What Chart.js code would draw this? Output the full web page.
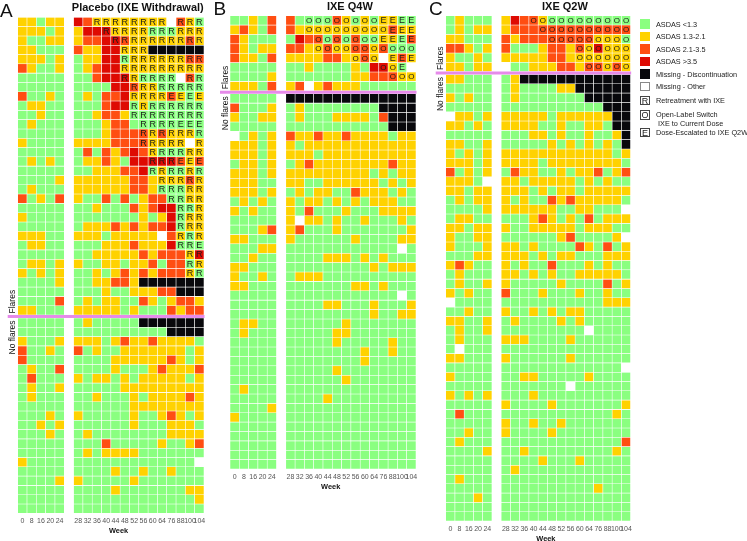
<!DOCTYPE html>
<html>
<head>
<meta charset="utf-8">
<title>ASDAS by week</title>
<script src="https://cdn.jsdelivr.net/npm/chart.js@4"></script>
<style>
html, body { margin: 0; padding: 0; background: #fff; }
body { width: 747px; height: 541px; position: relative; overflow: hidden; font-family: "Liberation Sans", Arial, sans-serif; }
canvas { position: absolute; top: 0; }
#legend { position: absolute; left: 0; top: 0; width: 747px; height: 541px; will-change: transform; }
.key { position: absolute; left: 640.3px; width: 9.6px; height: 9.6px; box-sizing: border-box; text-align: center; font-size: 9px; line-height: 8.4px; color: #222; }
.keyText { position: absolute; left: 656px; font-size: 7.3px; line-height: 9px; color: #222; white-space: pre; }
</style>
</head>
<body>
<canvas id="chartA" width="212" height="541" style="left:0"></canvas>
<canvas id="chartB" width="216" height="541" style="left:212px"></canvas>
<canvas id="chartC" width="208" height="541" style="left:428px"></canvas>
<div id="legend"></div>
<script>
var weeks = ['0', '8', '16', '20', '24', '', '28', '32', '36', '40', '44', '48', '52', '56', '60', '64', '76', '88', '100', '104'];

// g <1.3, y 1.3-2.1, o 2.1-3.5, r >3.5, k discontinued, w missing
var placeboRows = [
    'yygyy royyyyyyyywoyg', 'yyygy yrrryyyygggyyy', 'yggyy yoorroyyyyyyoy', 'yyggg oyyrryyykkkkkk', 'yyygy gyyrrgyyyyyyoo',
    'oyggy gyorryyyyyyyyy', 'ggggg ggorrryggggwog', 'ggggg ggggrroyyggggg', 'oggyg gygooryyyyoygy',
    'gyygg gggorrgygggggg', 'ggygg ggyooygggggggg', 'gyggg gggyoogggggggg', 'ggggg gggyooooyoyyyg',
    'ygggg yyyyooooyyyywy', 'ggggg gogoyoroygggyy', 'gygyg gyyoygrrrrroyo', 'ggggg ggyyyoorgyggyg',
    'ggggy yyyyyyooyyyyoy', 'gyggg yyyyyyooygggyy', 'ogygo yggogogyooggyy', 'ggggg ggygggoyorrggy',
    'ygggg gggggggygyrgyy', 'ggggg gyyyoyoyoorgyy', 'yyygg yyygyyyyywoygy', 'gyygg gggyyyoyyyrggg',
    'ggggg ggyyyyyoyoooyr', 'gyygy yggyygyyogoogy', 'ygygy ggygyoyoyoooyg', 'ggggy ggyyooykkkkkkk',
    'ggggg gggyggyyyookkk', 'ggggo gygyyggoygyooy', 'yyggg yyyyygygggoyoo', 'ggggg gygggggkkkkkkk',
    'ggggg ggggggggggkkkk', 'ygggy yyygyoyyoyyyyg', 'oggyg ogyggyyyyyyygy', 'ogggg ggggyyyyyyoygy',
    'gyggo ggggygggyoyyyo', 'goggg ygyygygyyyyygy', 'gyggy gggggyyyyyyyyy', 'gyggg ggygggygyyyyoy',
    'ggggg ggggggyyyyyyyy', 'gggyg ygggggyggyoygy', 'ggygy ggggggygggyyyg', 'gggyg gyggggggggyyyy',
    'ggggg gggogggggyggyo', 'ggggg gygyyyyggggggg', 'ygggg gggggggggggggw', 'ggggg ggggyggyggyggg',
    'ggggy ygggggyggggggg', 'ggggg ggggygggggggyy', 'ggggg gggggggggggggy', 'ggggg gggggggggggggg'
];
var placeboMarks = [
    '..RRRRRRRR.RRR', '...RRRRRRRRRRR', '....RRRRRRRRRR', '.....RRR......', '.....RRRRRRRRR',
    '.....RRRRRRRRR', '.....RRRRRR.RR', '......RRRRRRRR', '......RRRREEEE', '......RRRRRRRR',
    '......RRRRRRRR', '.......RRRREEE', '.......RRRRRRR', '.......RRRRR.R', '........RRRRRR',
    '........RRREEE', '........RRRRRR', '.........RRRRR', '.........RRRRR', '..........RRRR',
    '...........RRR', '...........RRR', '...........RRR', '...........RRR', '...........RRE',
    '............RR', '............RR', '............RR'
];
var q4wRows = [
    'ggygo oggggoygygyygg', 'yoygo oyyyyyyyyyyoyy', 'oyggg groogogoggyygo', 'oygyy ooyyoyyooyoggg',
    'oyygo yyyyooyyoywyoy', 'ggggg ggyggggygrrygw', 'ggggy gggggggyyoooyy', 'yyygo yowyoyyygggggg',
    'ggggg kkkkkkkkkkkkkk', 'ogggy gyggggggggkkkk', 'yggyy gygggyyyygokkk', 'ggggg gggggggggggkkk',
    'wgygy oyyoyyoyyyygyy', 'yyygy ygyyyyyyyyyyyy', 'yyygy yyygyyyyyyyyyy', 'gyygy gyoyyyyyyyyoyy',
    'yyygy yyyyyyyyygygyy', 'yyygg yyggyyyyyygygy', 'yyygy gygyyggoyyygyg', 'gygyg ygyygygygyyygg',
    'ygygg ygogggygggyyyy', 'ggggg ywyygyggygggyg', 'gggyo yogggygggggggy', 'yyggg yggggggyggggyy',
    'gggyy ggggggggggggwg', 'ggygg ggggyyygygyggg', 'yyggg gggggggggygyyy', 'yggyg gyyygggggggggg',
    'yyggg gggggggyygyggg', 'ggggg ggggggggggggwg', 'ggggg ggggyygggygggy', 'ggggg gggggggggyggyy',
    'gyygg ggggggyggggggg', 'gyggg gggggyyggggggg', 'ggggg gggggygggggygg', 'ggggg ggggggggyggygg',
    'ggggg ggggggggyggggg', 'ggggg gggggygggggggg', 'ggggg ggggggyggggggg', 'gyggg gggggggggggggg',
    'ggggg ggggyggggggggg', 'ggggy gggggggggggggg', 'ygggg gggggggggggggg', 'ggggg gggggggggggggg',
    'ggggg gggggggggggggg', 'ggggg gggggggggggggg', 'ggggg gggggggggggggg', 'ggggg gggggggggggggg'
];
var q4wMarks = [
    '..OOOOOOOOEEEE', '..OOOOOOOOOEEE', '...OOOOOOOEEEE', '...OOOOOOOOOOO',
    '.......OOO.EEE', '..........OOE.', '...........OOO'
];
var q2wRows = [
    'gyggg yrooyggggggggg', 'gygyy yooooooooooooo', 'yyggg oyooooooooyyyg', 'ooygy ogggyooyoyryyy',
    'yggyg yyyyyooyyyyyyy', 'yygyy wggyyyooyooyoy', 'yyggg gykkkkkkkkkkkk', 'ggggg gyggggyykkkkkk',
    'ygygg gygggggggkkkkk', 'ggggg gggggggggggkkk', 'wyygy yyyyygyyyyyykk', 'yygyg yyyyggyggyygkk',
    'ggggg gggyygyggyggyk', 'yyggy gggggygygygygk', 'ygygy yyyyyyyyyyyygy', 'yyygy yyyygyyyyyyyyg',
    'ogygy goyyggygyyogyo', 'yyygw yygyyyyygygygg', 'yygyy yyygygyygyyyyy', 'gygyy ygyggoyoyyyyyg',
    'ggggy yyyyyyggyygggw', 'gyygg gggyoygygogyyy', 'yygyy yggyyyyygyyygg', 'yggyy ggggggyoggggyw',
    'ygggy yygyggggoygogy', 'gggyy yyygygyygggyyy', 'yoygg ygyggogggygygg', 'gyggg yygygyggyyyyyg',
    'gyggy ygggggyggggogy', 'ygygg ogggygggyggygg', 'wgggg gggggggggggyyy', 'ggygg yggygygyyggggg',
    'yyggy gyggggygyggggg', 'gyggy gggggggggwgggg', 'gyggg yyyggggygggggg', 'gwggg gggggggggggggg',
    'yyggg yggggggygggggg', 'ggggg gggggggggggggw', 'ygggg ggyygggggygggg', 'ggggg gggggggwgggggg',
    'ygygy gggygggggggggg', 'ggggg yggggygggggggy', 'goggg ggggggggggggyg', 'ggggg yggyggyggggggg',
    'ggygg yggggygggggggg', 'gyggg gggggggggggggo', 'ggggy ggygggggggggyg', 'ggggg ggggygggyggggg',
    'ggggg gygggggggggggg', 'gyggg gggggggggggggg', 'ggggg ggggggggggyggg', 'gggyg gggggggggggggg',
    'ggggg gggggggggggggg', 'ggggg gggggggggggggg'
];
var q2wMarks = [
    '...OOOOOOOOOOO', '....OOOOOOOOOO', '.....OOOOOOOOO', '........OOOOOO', '........OOOOOO', '.........OOOOO'
];

var colors = { g: '#8AFF80', y: '#FFD200', o: '#FF4E12', r: '#DE0A02', k: '#08080C', w: '#FFFFFF' };
var legendSwatches = ['g', 'y', 'o', 'r', 'k', 'w'];
var legendSwatchText = ['ASDAS <1.3', 'ASDAS 1.3-2.1', 'ASDAS 2.1-3.5', 'ASDAS >3.5', 'Missing - Discontinuation', 'Missing - Other'];
var legendMarks = ['R', 'O', 'E'];
var legendMarkText = ['Retreatment with IXE', 'Open-Label Switch\n IXE to Current Dose', 'Dose-Escalated to IXE Q2W'];

var flareGap = 0.32;
var rightStart = 6;

var heatDecor = {
    id: 'heatDecor',
    afterDatasetsDraw: function (chart, args, opts) {
        var ctx = chart.ctx;
        var area = chart.chartArea;
        var x = chart.scales.x;
        var y = chart.scales.y;
        var i, j;

        ctx.save();
        ctx.fillStyle = '#1c1c1c';
        ctx.textAlign = 'center';
        ctx.textBaseline = 'middle';
        for (i = 0; i < opts.marks.length; ++i) {
            for (j = 0; j < opts.marks[i].length; ++j) {
                if (opts.marks[i][j] != '.') {
                    var cell = chart.getDatasetMeta(i).data[rightStart + j].getCenterPoint();
                    ctx.font = (opts.marks[i][j] == 'O' ? '8' : '9') + 'px "Liberation Sans"';
                    ctx.fillText(opts.marks[i][j], cell.x, cell.y + 0.4);
                }
            }
        }

        // line between the flare and no-flare rows
        var lineY = y.getPixelForValue(opts.flareRows + flareGap / 2);
        ctx.fillStyle = '#E68AEA';
        ctx.fillRect(area.left - 10, lineY - 1.5, area.width + 10.5, 3);

        ctx.fillStyle = '#111';
        ctx.font = 'bold 11px "Liberation Sans"';
        var titleX = (x.getPixelForTick(rightStart) + x.getPixelForTick(weeks.length - 1)) / 2 - 1;
        ctx.fillText(opts.title, titleX, opts.titleY);

        ctx.font = 'bold 7.4px "Liberation Sans"';
        ctx.fillText('Week', area.left + area.width / 2 + 7.7, area.bottom + 17.5);

        ctx.textAlign = 'left';
        ctx.textBaseline = 'alphabetic';
        ctx.font = '19px "Liberation Sans"';
        ctx.fillText(opts.letter, opts.letterX, opts.letterY);

        ctx.font = '8.5px "Liberation Sans"';
        ctx.translate(area.left - 2.5, lineY);
        ctx.rotate(-Math.PI / 2);
        ctx.fillText('Flares', 3, 0);
        ctx.textAlign = 'right';
        ctx.fillText('No flares', -4, 0);
        ctx.restore();
    }
};

function buildDatasets(rows, flareRows) {
    var sets = [];
    for (var i = 0; i < rows.length; ++i) {
        var top = i < flareRows ? i : i + flareGap;
        var values = [];
        var fills = [];
        for (var j = 0; j < rows[i].length; ++j) {
            values.push(rows[i][j] == ' ' ? null : [top, top + 1]);
            fills.push(colors[rows[i][j]] || '#fff');
        }
        sets.push({
            data: values,
            backgroundColor: fills,
            borderColor: '#FFFFFF',
            borderWidth: 0.6,
            borderSkipped: false,
            grouped: false,
            barPercentage: 1,
            categoryPercentage: 1
        });
    }
    return sets;
}

function drawPanel(id, rows, marks, flareRows, box, decor) {
    var canvas = document.getElementById(id);
    decor.marks = marks;
    decor.flareRows = flareRows;
    new Chart(canvas.getContext('2d'), {
        type: 'bar',
        data: { labels: weeks, datasets: buildDatasets(rows, flareRows) },
        plugins: [heatDecor],
        options: {
            responsive: false,
            animation: false,
            layout: {
                padding: {
                    left: box.left,
                    right: canvas.width - box.right,
                    top: box.top,
                    bottom: canvas.height - box.bottom - 12
                }
            },
            scales: {
                x: {
                    grid: { display: false, drawTicks: false },
                    border: { display: false },
                    afterFit: function (scale) { scale.height = 12; },
                    ticks: {
                        autoSkip: false,
                        maxRotation: 0,
                        padding: 4,
                        color: '#555',
                        font: { family: 'Liberation Sans', size: 7 }
                    }
                },
                y: { display: false, reverse: true, min: 0, max: rows.length + flareGap }
            },
            plugins: {
                legend: { display: false },
                tooltip: { enabled: false },
                heatDecor: decor
            }
        }
    });
}

function drawLegend() {
    var holder = document.getElementById('legend');
    var swatchTops = [19.4, 31.8, 44.2, 56.6, 69.2, 81.8];
    var markTops = [95.6, 110, 127.6];
    var textTops = [95.5, 110, 128];
    var i, el, txt;
    for (i = 0; i < legendSwatches.length; ++i) {
        el = document.createElement('div');
        el.className = 'key';
        el.style.top = swatchTops[i] + 'px';
        el.style.background = colors[legendSwatches[i]];
        if (legendSwatches[i] == 'w') el.style.border = '0.6px solid #888';
        holder.appendChild(el);
        txt = document.createElement('div');
        txt.className = 'keyText';
        txt.style.top = (swatchTops[i] + 0.3) + 'px';
        txt.textContent = legendSwatchText[i];
        holder.appendChild(txt);
    }
    for (i = 0; i < legendMarks.length; ++i) {
        el = document.createElement('div');
        el.className = 'key';
        el.style.top = markTops[i] + 'px';
        el.style.border = '0.6px solid #444';
        el.textContent = legendMarks[i];
        holder.appendChild(el);
        txt = document.createElement('div');
        txt.className = 'keyText';
        txt.style.top = textTops[i] + 'px';
        txt.textContent = legendMarkText[i];
        holder.appendChild(txt);
    }
}

drawPanel('chartA', placeboRows, placeboMarks, 32,
    { left: 17.7, right: 204, top: 17.3, bottom: 513.3 },
    { letter: 'A', letterX: 0, letterY: 16.6, title: 'Placebo (IXE Withdrawal)', titleY: 8 });
drawPanel('chartB', q4wRows, q4wMarks, 8,
    { left: 18, right: 204, top: 15.7, bottom: 469 },
    { letter: 'B', letterX: 1.5, letterY: 14.5, title: 'IXE Q4W', titleY: 6.5 });
drawPanel('chartC', q2wRows, q2wMarks, 6,
    { left: 17.7, right: 202.7, top: 15.7, bottom: 521 },
    { letter: 'C', letterX: 1, letterY: 15, title: 'IXE Q2W', titleY: 7 });
drawLegend();
</script>
</body>
</html>
